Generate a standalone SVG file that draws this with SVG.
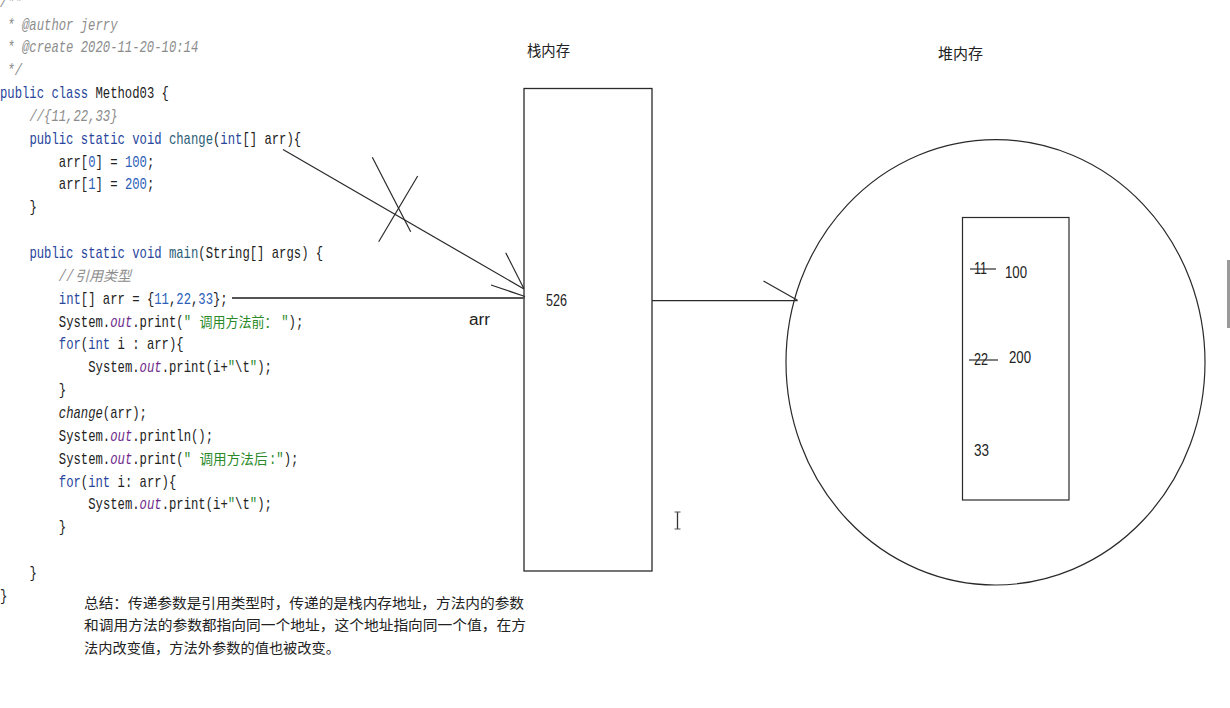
<svg xmlns="http://www.w3.org/2000/svg" width="1230" height="708" viewBox="0 0 1230 708">
<style>
.c{font-family:"Liberation Mono","DejaVu Sans Mono",monospace;font-size:16.33px;fill:#222;white-space:pre}
.k{fill:#28469c}
.n{fill:#2d5fb8}
.m{fill:#2b5e78}
.o{fill:#6e2a8c;font-style:italic}
.s{fill:#2a8a2a}
.cm{fill:#8c8c8c;font-style:italic}
.it{font-style:italic}
.cj{font-family:"Noto Sans CJK SC","Noto Sans",sans-serif;font-size:14px}
.lbl{font-family:"Noto Sans CJK SC","Noto Sans",sans-serif;font-size:14.5px;fill:#222}
.num{font-family:"Liberation Sans","Noto Sans CJK SC",sans-serif;font-size:16px;fill:#222}
.ln{fill:none;stroke:#2a2a2a;stroke-width:1.2}
.sum{font-family:"Noto Sans CJK SC","Noto Sans",sans-serif;font-size:14.2px;fill:#222}
</style>
<rect width="1230" height="708" fill="#ffffff"/>

<g id="code">
<g transform="scale(0.75 1)">
<text class="c cm" x="0" y="6.7">/**</text>
<text class="c cm" x="0" y="29.55"> * @author jerry</text>
<text class="c cm" x="0" y="52.4"> * @create 2020-11-20-10:14</text>
<text class="c cm" x="0" y="75.25"> */</text>
<text class="c" x="0" y="98.1"><tspan class="k">public class</tspan> Method03 {</text>
<text class="c cm" x="39.2" y="120.95">//{11,22,33}</text>
<text class="c" x="39.2" y="143.8"><tspan class="k">public static void</tspan> <tspan class="m">change</tspan>(<tspan class="k">int</tspan>[] arr){</text>
<text class="c" x="78.4" y="166.65">arr[<tspan class="n">0</tspan>] = <tspan class="n">100</tspan>;</text>
<text class="c" x="78.4" y="189.5">arr[<tspan class="n">1</tspan>] = <tspan class="n">200</tspan>;</text>
<text class="c" x="39.2" y="212.35">}</text>
<text class="c" x="39.2" y="258.05"><tspan class="k">public static void</tspan> <tspan class="m">main</tspan>(String[] args) {</text>
<text class="c cm" x="78.4" y="280.9">//</text>
<text class="c" x="78.4" y="303.75"><tspan class="k">int</tspan>[] arr = {<tspan class="n">11</tspan>,<tspan class="n">22</tspan>,<tspan class="n">33</tspan>};</text>
<text class="c" x="78.4" y="326.6">System.<tspan class="o">out</tspan>.print(<tspan class="s">"</tspan></text>
<text class="c" x="375" y="326.6"><tspan class="s">"</tspan>);</text>
<text class="c" x="78.4" y="349.45"><tspan class="k">for</tspan>(<tspan class="k">int</tspan> i : arr){</text>
<text class="c" x="117.6" y="372.3">System.<tspan class="o">out</tspan>.print(i+<tspan class="s">"</tspan>\t<tspan class="s">"</tspan>);</text>
<text class="c" x="78.4" y="395.15">}</text>
<text class="c" x="78.4" y="418"><tspan class="it">change</tspan>(arr);</text>
<text class="c" x="78.4" y="440.85">System.<tspan class="o">out</tspan>.println();</text>
<text class="c" x="78.4" y="463.7">System.<tspan class="o">out</tspan>.print(<tspan class="s">"</tspan></text>
<text class="c" x="358.7" y="463.7"><tspan class="s">:"</tspan>);</text>
<text class="c" x="78.4" y="486.55"><tspan class="k">for</tspan>(<tspan class="k">int</tspan> i: arr){</text>
<text class="c" x="117.6" y="509.4">System.<tspan class="o">out</tspan>.print(i+<tspan class="s">"</tspan>\t<tspan class="s">"</tspan>);</text>
<text class="c" x="78.4" y="532.25">}</text>
<text class="c" x="39.2" y="577.95">}</text>
<text class="c" x="0" y="600.8">}</text>
</g>
<text class="cj" x="75" y="280.9" fill="#8c8c8c" font-style="italic" textLength="56" lengthAdjust="spacingAndGlyphs">引用类型</text>
<text class="cj" x="199.5" y="326.6" fill="#2a8a2a" textLength="78" lengthAdjust="spacingAndGlyphs">调用方法前：</text>
<text class="cj" x="199.5" y="463.7" fill="#2a8a2a" textLength="68" lengthAdjust="spacingAndGlyphs">调用方法后</text>
</g>

<g id="stack-node">
<text class="lbl" x="527" y="55.5" textLength="43" lengthAdjust="spacingAndGlyphs">栈内存</text>
<rect x="524" y="88.5" width="128" height="482.5" fill="none" stroke="#2a2a2a" stroke-width="1.3"/>
<text class="num" x="546" y="306" textLength="21" lengthAdjust="spacingAndGlyphs">526</text>
</g>

<g id="heap-node">
<text class="lbl" x="938" y="58.5" textLength="45" lengthAdjust="spacingAndGlyphs">堆内存</text>
<ellipse cx="995.5" cy="362.3" rx="209.5" ry="222.7" fill="none" stroke="#2a2a2a" stroke-width="1.2"/>
<rect x="962.5" y="217.5" width="106.5" height="282.5" fill="none" stroke="#2a2a2a" stroke-width="1.2"/>
<text class="num" x="974" y="274" textLength="13" lengthAdjust="spacingAndGlyphs">11</text>
<line class="ln" x1="970" y1="269" x2="996" y2="269"/>
<text class="num" x="1005" y="277.5" textLength="22" lengthAdjust="spacingAndGlyphs">100</text>
<text class="num" x="974" y="365" textLength="14" lengthAdjust="spacingAndGlyphs">22</text>
<line class="ln" x1="969" y1="360" x2="998" y2="360"/>
<text class="num" x="1009" y="362.7" textLength="22" lengthAdjust="spacingAndGlyphs">200</text>
<text class="num" x="974" y="456" textLength="15" lengthAdjust="spacingAndGlyphs">33</text>
</g>

<g id="connectors">
<line x1="232" y1="298" x2="525" y2="298" stroke="#555" stroke-width="2"/>
<line class="ln" x1="491" y1="285" x2="525" y2="296.5"/>
<text class="num" x="469" y="324.5" font-size="15" fill="#333" textLength="21" lengthAdjust="spacingAndGlyphs">arr</text>
<line class="ln" x1="283" y1="149.5" x2="524" y2="289"/>
<line class="ln" x1="505.7" y1="252.7" x2="523.7" y2="288.3"/>
<line class="ln" x1="372.3" y1="157.3" x2="410.7" y2="231.7" stroke="#444"/>
<line class="ln" x1="417.7" y1="176" x2="378.7" y2="241.7" stroke="#444"/>
<line class="ln" x1="652" y1="300.7" x2="797.5" y2="300.7"/>
<line class="ln" x1="763.5" y1="281" x2="797.5" y2="300.2"/>
</g>

<g id="summary">
<text class="sum" x="84" y="607.5" textLength="440" lengthAdjust="spacingAndGlyphs">总结：传递参数是引用类型时，传递的是栈内存地址，方法内的参数</text>
<text class="sum" x="84" y="630" textLength="442" lengthAdjust="spacingAndGlyphs">和调用方法的参数都指向同一个地址，这个地址指向同一个值，在方</text>
<text class="sum" x="84" y="652.5" textLength="256" lengthAdjust="spacingAndGlyphs">法内改变值，方法外参数的值也被改变。</text>
</g>

<g id="screen-artifacts">
<line x1="677.5" y1="512" x2="677.5" y2="529" stroke="#333" stroke-width="1.3"/>
<line x1="674.5" y1="512" x2="680.5" y2="512" stroke="#555" stroke-width="1"/>
<line x1="674.5" y1="529" x2="680.5" y2="529" stroke="#555" stroke-width="1"/>
<rect x="1227" y="260" width="3" height="68" fill="#9a9a9a"/>
</g>
</svg>
